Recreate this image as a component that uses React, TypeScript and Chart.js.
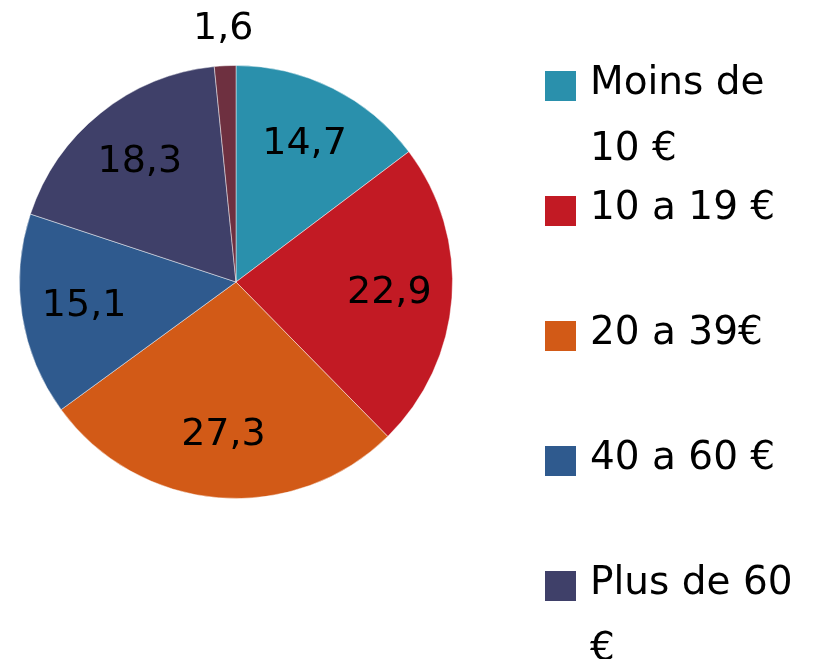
import React, { useEffect, useRef } from "react";
import { Chart, registerables } from "chart.js";

Chart.register(...registerables);

const categories = ["Moins de 10 €", "10 a 19 €", "20 a 39€", "40 a 60 €", "Plus de 60 €", "Sans réponse"];
const values = [14.7, 22.9, 27.3, 15.1, 18.3, 1.6];
const colors = ["#2A90AC", "#C21A24", "#D25A17", "#2F5A8E", "#3F4069", "#6E3040"];

const FONT = "'DejaVu Sans', 'Liberation Sans', sans-serif";

const fmt = (v: number) => v.toFixed(1).replace(".", ",");

const labelPlugin = {
  id: "sliceLabels",
  afterDatasetsDraw(chart: any) {
    const ctx = chart.ctx;
    const meta = chart.getDatasetMeta(0);
    const total = values.reduce((a, b) => a + b, 0);
    ctx.save();
    ctx.font = `38px ${FONT}`;
    ctx.fillStyle = "#000";
    ctx.textAlign = "center";
    ctx.textBaseline = "middle";
    meta.data.forEach((arc: any, i: number) => {
      const p = arc.getProps(["x", "y", "startAngle", "endAngle", "outerRadius"], true);
      const mid = (p.startAngle + p.endAngle) / 2;
      const share = values[i] / total;
      const r = share < 0.03 ? p.outerRadius * 1.17 : p.outerRadius * 0.71;
      const x = p.x + Math.cos(mid) * r;
      const y = p.y + Math.sin(mid) * r;
      ctx.fillText(fmt(values[i]), x, y);
    });
    ctx.restore();
  },
};

export default function App() {
  const ref = useRef<HTMLCanvasElement | null>(null);

  useEffect(() => {
    if (!ref.current) return;
    const chart = new Chart(ref.current, {
      type: "pie",
      data: {
        labels: categories,
        datasets: [
          {
            data: values,
            backgroundColor: colors,
            borderColor: "rgba(255,255,255,0.45)",
            borderWidth: 1,
          },
        ],
      },
      options: {
        responsive: false,
        animation: false,
        devicePixelRatio: 1,
        layout: { padding: { left: 19, right: 363, top: 65, bottom: 160 } },
        plugins: {
          legend: { display: false },
          tooltip: { enabled: false },
        },
      },
      plugins: [labelPlugin],
    });
    return () => chart.destroy();
  }, []);

  return (
    <div
      style={{
        position: "fixed",
        left: 0,
        top: 0,
        width: 816,
        height: 659,
        overflow: "hidden",
        background: "#fff",
      }}
    >
      <canvas ref={ref} width={816} height={659} style={{ position: "absolute", left: 0, top: 0, width: 816, height: 659 }} />
      {categories.map((c, i) => (
        <React.Fragment key={c}>
          <div
            style={{
              position: "absolute",
              left: 545,
              top: 71 + 125 * i,
              width: 31,
              height: 30,
              background: colors[i],
            }}
          />
          <div
            style={{
              position: "absolute",
              left: 590,
              top: 48 + 125 * i,
              width: 222,
              fontFamily: FONT,
              fontSize: 39,
              lineHeight: "66px",
              color: "#000",
              whiteSpace: "normal",
            }}
          >
            {c}
          </div>
        </React.Fragment>
      ))}
    </div>
  );
}
